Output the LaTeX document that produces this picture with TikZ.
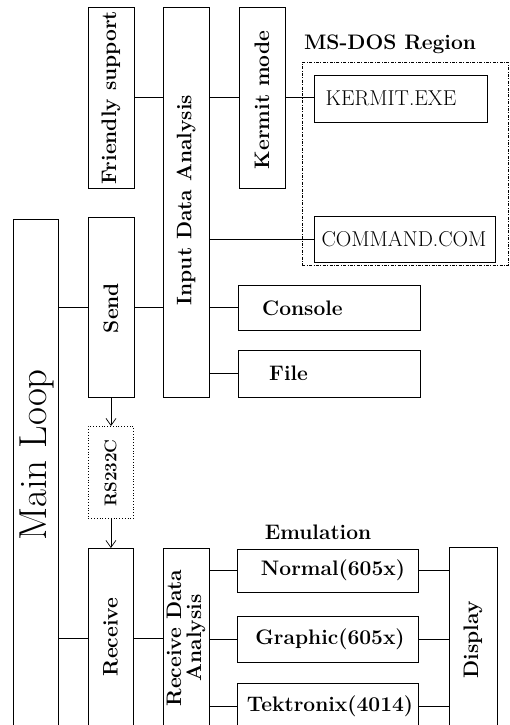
\documentclass[tikz,border=0pt]{standalone}
\usetikzlibrary{arrows.meta,calc}
\begin{document}
\begin{tikzpicture}[x=1pt,y=-1pt,
  box/.style={draw, line width=0.8pt, inner sep=0pt, outer sep=0pt, anchor=north west},
  lbl/.style={font=\fontsize{21}{20}\selectfont\bfseries, inner sep=0pt},
  rlbl/.style={font=\fontsize{21.5}{20}\selectfont, inner sep=0pt},
  vlbl/.style={lbl, rotate=90},
  wire/.style={line width=0.8pt},
  arr/.style={wire, -{Straight Barb[length=7pt,width=10pt,line width=0.7pt]}},
  region/.style={draw, line width=0.6pt, dash pattern=on 3pt off 1.5pt on 0.8pt off 1.5pt, inner sep=0pt, anchor=north west},
  dotbox/.style={draw, line width=0.8pt, dotted, inner sep=0pt, anchor=north west}]
\useasboundingbox (0,0) rectangle (509,725);
\clip (0,0) rectangle (509,725);
% boxes
\node[box, minimum width=45pt, minimum height=520pt] (main) at (13,219) {};
\node[box, minimum width=46pt, minimum height=181pt] (fs) at (88,7) {};
\node[box, minimum width=46pt, minimum height=180pt] (send) at (88,217) {};
\node[box, minimum width=46pt, minimum height=390pt] (ida) at (163,7) {};
\node[box, minimum width=46pt, minimum height=181pt] (km) at (239,7) {};
\node[region, minimum width=206pt, minimum height=203pt] (msdos) at (302,62) {};
\node[box, minimum width=173pt, minimum height=47pt] (kexe) at (314,75) {};
\node[box, minimum width=181pt, minimum height=46pt] (ccom) at (314,216) {};
\node[box, minimum width=182pt, minimum height=45pt] (console) at (238,285) {};
\node[box, minimum width=182pt, minimum height=47pt] (file) at (238,350) {};
\node[dotbox, minimum width=45pt, minimum height=92pt] (rs) at (88,426) {};
\node[box, minimum width=45pt, minimum height=180pt] (recv) at (88,548) {};
\node[box, minimum width=46pt, minimum height=180pt] (rda) at (163,548) {};
\node[box, minimum width=181pt, minimum height=43pt] (normal) at (237,549) {};
\node[box, minimum width=181pt, minimum height=46pt] (graphic) at (237,616) {};
\node[box, minimum width=181pt, minimum height=46pt] (tek) at (237,683) {};
\node[box, minimum width=48pt, minimum height=186pt] (display) at (449,547) {};
% texts
\node[rotate=90, inner sep=0pt, font=\fontsize{39}{39}\selectfont] (main-t) at (37,455) {Main Loop};
\node[vlbl] (fs-t) at (111,97.5) {Friendly support};
\node[vlbl] (km-t) at (262,100) {Kermit mode};
\node[vlbl] (ida-t) at (186,200) {Input Data Analysis};
\node[vlbl] (send-t) at (111,308) {Send};
\node[rotate=90, inner sep=0pt, font=\fontsize{17}{17}\selectfont\bfseries] (rs-t) at (110.5,473) {RS232C};
\node[vlbl] (recv-t) at (110.5,637) {Receive};
\node[vlbl, align=center] (rda-t) at (186,638) {Receive Data\\Analysis};
\node[vlbl] (display-t) at (473,640) {Display};
\node[lbl, anchor=west] (console-t) at (262,308) {Console};
\node[lbl, anchor=west] (file-t) at (269,373) {File};
\node[rlbl] (kexe-t) at (391,98) {KERMIT.EXE};
\node[rlbl] (ccom-t) at (404,239) {COMMAND.COM};
\node[lbl] (normal-t) at (333,570) {Normal(605x)};
\node[lbl] (graphic-t) at (330,639) {Graphic(605x)};
\node[lbl] (tek-t) at (330,706) {Tektronix(4014)};
\node[lbl, anchor=base] (msdos-t) at (390,50) {MS-DOS Region};
\node[lbl, anchor=base] (emu-t) at (318,539) {Emulation};
% connectors
\coordinate (yR) at (0,638);
\draw[wire] (send.west -| main.east) -- (send.west);
\draw[wire] (send.east) -- (send.east -| ida.west);
\draw[wire] (console.west -| ida.east) -- (console.west);
\draw[wire] (file.west -| ida.east) -- (file.west);
\draw[wire] (fs.east) -- (fs.east -| ida.west);
\draw[wire] (km.west -| ida.east) -- (km.west);
\draw[wire] (km.east) -- (km.east -| kexe.west);
\draw[wire] (ccom.west -| ida.east) -- (ccom.west);
\draw[arr] (send.south) -- (send.south |- rs.north);
\draw[arr] (rs.south) -- (rs.south |- recv.north);
\draw[wire] (main.east |- yR) -- (recv.west |- yR);
\draw[wire] (recv.east |- yR) -- (rda.west |- yR);
\draw[wire] (normal.west -| rda.east) -- (normal.west);
\draw[wire] (normal.east) -- (normal.east -| display.west);
\draw[wire] (graphic.west -| rda.east) -- (graphic.west);
\draw[wire] (graphic.east) -- (graphic.east -| display.west);
\draw[wire] (tek.west -| rda.east) -- (tek.west);
\draw[wire] (tek.east) -- (tek.east -| display.west);
\end{tikzpicture}
\end{document}
